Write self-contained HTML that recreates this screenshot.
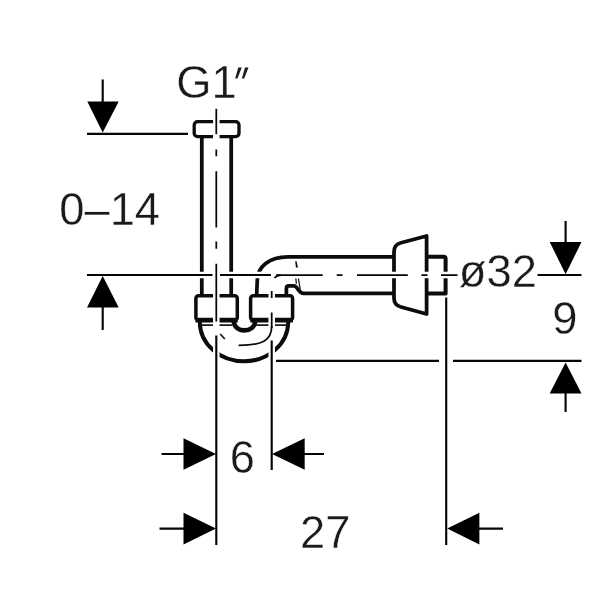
<!DOCTYPE html>
<html><head><meta charset="utf-8">
<style>
html,body{margin:0;padding:0;background:#fff;}
svg{display:block;will-change:transform;}
text{font-family:"Liberation Sans",sans-serif;fill:#1a1a1a;stroke:#fff;stroke-width:0.35;}
</style></head><body>
<svg width="600" height="600" viewBox="0 0 600 600">
<rect width="600" height="600" fill="#fff"/>
<!-- thick object lines -->
<g fill="none" stroke="#0c0c0c" stroke-width="3.75" stroke-linejoin="round" stroke-linecap="butt">
  <!-- top nut -->
  <rect x="194.2" y="121.7" width="44.8" height="14.9" rx="3.4" stroke-width="3.3"/>
  <!-- vertical pipe -->
  <path d="M201.800 137V296M231.200 137V296"/>
  <!-- left nut -->
  <rect x="195.900" y="295.800" width="41.400" height="24.200" rx="2.600" stroke-width="3.500"/>
  <path d="M195.500 320.100H237.700M250.300 320.100H292.900" stroke-width="4.600"/>
  <!-- right nut -->
  <rect x="250.600" y="295.800" width="42" height="24.200" rx="2.600" stroke-width="3.500"/>
  <!-- inner small U -->
  <path d="M233.700 320.500C233.700 333.700 255.200 333.700 255.200 320.500" stroke-width="4.6"/>
  <!-- big U : half ellipse -->
  <path d="M199.800 322A44.200 39.300 0 0 0 288.200 322" stroke-width="4"/>
  <!-- elbow outer -->
  <path d="M256.600 296L257.300 280C257.600 267 269 256.850 288 256.850H394"/>
  <!-- elbow inner step and pipe bottom -->
  <path d="M286.400 296V288.400Q286.400 285.900 288.900 285.900H294C297.500 285.900 298.500 293.300 303.500 293.300H394"/>
  <!-- flange -->
  <path d="M394 252Q394 244.500 401 242.700L426.600 236V314L401 307Q394 305 394 298Z"/>
  <!-- stub -->
  <path d="M426.600 256.700H443.500Q445.600 256.700 445.600 258.800V293.400H426.600" stroke-width="4"/>
</g>
<!-- thin inner lines -->
<g fill="none" stroke="#1a1a1a" stroke-width="1.5">
  <path d="M201 325.200H232M256 325.200H287" stroke-width="1.800"/>
  <path d="M220.200 334L224.800 339" stroke-width="1.800"/>
  <path d="M295.200 261.200H296.600L298 267.600H295.900Z" fill="#0c0c0c" stroke="none"/>
  <path d="M295.800 278.300L296.400 283.800M298.400 278.300L300.200 289.400" stroke-width="1.300"/>
</g>
<!-- halos -->
<g fill="none" stroke="#fff" stroke-width="6.500">
  <path d="M216.300 112V358"/>
  <path d="M271.700 288V357"/>
  <path d="M190 275H457"/>
  <path d="M446.200 352V368"/>
</g>
<g fill="none" stroke="#0c0c0c" stroke-width="1.800">
  <path d="M274.500 278Q277 275.200 281 275.200"/>
  <path d="M271.700 326C271.700 341 262 345.300 238.600 345.300"/>
</g>
<!-- thin dimension / center lines -->
<g fill="none" stroke="#060606" stroke-width="2.15">
  <path d="M87 133.800H188"/>
  <path d="M87 275H212.500M220 275H271M537.500 275H581.500"/>
  <path d="M276 360.900H439M453 360.900H581.500"/>
  <path d="M216.300 335.500V545"/>
  <path d="M271.700 340.500V470"/>
  <path d="M446.200 297.500V545"/>
  <!-- arrow stems -->
  <path d="M102.700 79.500V103M102.700 306V330M565.600 221V244M565.600 392V412"/>
  <path d="M161.500 454H186M303 454H324M159.500 528.600H186M478 528.600H503"/>
</g>
<g fill="none" stroke="#060606" stroke-width="1.75">
  <path d="M276 275H322.700M336.700 275H342.500M357 275H407.800M421.500 275H427.500M441 275H457.500"/>
  <path d="M216.300 108.700V134.300M216.300 149.500V156.300M216.300 171.300V227.500M216.300 241.500V248.800M216.300 263.800V321.500"/>
  <path d="M271.700 291V298M271.700 312.500V328"/>
</g>
<!-- arrow heads -->
<g fill="#000" stroke="none">
  <path d="M87.300 101.400H118.700L102.700 132.500Z"/>
  <path d="M87 307.400H118.700L102.700 276Z"/>
  <path d="M549.700 242H581.500L565.600 274.200Z"/>
  <path d="M549.700 393.600H581.500L565.600 362.400Z"/>
  <path d="M183.500 438.200V469.800L216 454Z"/>
  <path d="M304.700 438.200V469.800L272 454Z"/>
  <path d="M183.500 512.700V544.500L216 528.600Z"/>
  <path d="M479.400 512.700V544.500L447.200 528.600Z"/>
</g>
<g font-size="45.3">
  <text x="176.300" y="97.900">G1</text>
  <path d="M238.300 67.500H241.800L237.400 78.400H235.200ZM245 67.500H248.500L244.100 78.400H241.900Z" fill="#1a1a1a"/>
  <text x="59.300" y="224.600">0–14</text>
  <text x="458.800" y="287">ø32</text>
  <text x="552.300" y="334.300">9</text>
  <text x="229.700" y="473">6</text>
  <text x="300" y="548">27</text>
</g>
</svg>
</body></html>
